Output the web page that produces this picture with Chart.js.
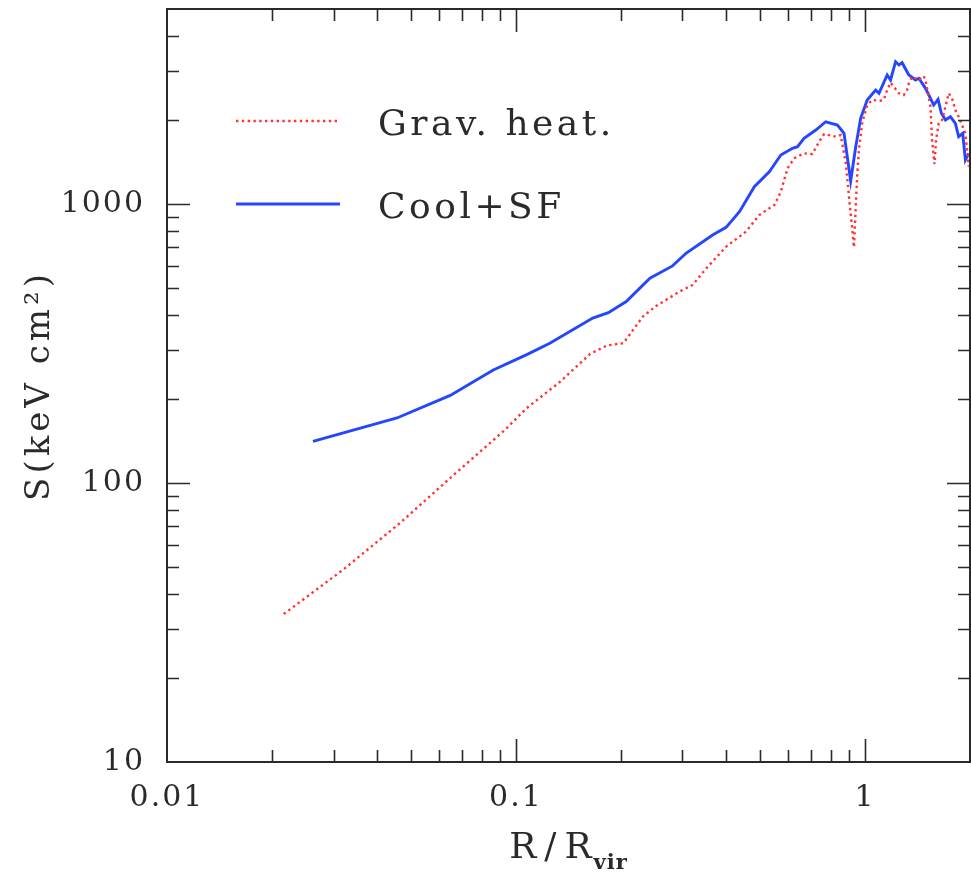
<!DOCTYPE html>
<html>
<head>
<meta charset="utf-8">
<script src="https://cdn.jsdelivr.net/npm/chart.js@4.4.1/dist/chart.umd.min.js"></script>
<style>
  html, body { margin: 0; padding: 0; background: #fff; }
  canvas { display: block; }
</style>
</head>
<body>
<canvas id="entropyChart" width="971" height="874"></canvas>
<script>
// Entropy profiles S(R)
const gravR = [0.0216, 0.0321, 0.0466, 0.0669, 0.093, 0.107, 0.134, 0.163, 0.182, 0.203,
  0.231, 0.252, 0.294, 0.321, 0.351, 0.400, 0.456, 0.498, 0.550, 0.574,
  0.600, 0.627, 0.669, 0.707, 0.739, 0.764, 0.825, 0.852, 0.881, 0.900,
  0.920, 0.930, 0.941, 0.951, 0.961, 0.982, 1.015, 1.049, 1.109, 1.133,
  1.158, 1.184, 1.210, 1.251, 1.292, 1.321, 1.336, 1.365, 1.427, 1.474,
  1.497, 1.541, 1.557, 1.582, 1.599, 1.627, 1.663, 1.701, 1.738, 1.776,
  1.816, 1.856, 1.906, 1.940, 1.983];
const gravS = [33.9, 49.1, 72.0, 108, 155, 185, 231, 290, 311, 317,
  395, 431, 485, 513, 588, 703, 796, 913, 992, 1107,
  1343, 1458, 1519, 1511, 1672, 1782, 1743, 1767, 1403, 1062,
  807, 700, 978, 1292, 1561, 1951, 2263, 2359, 2346, 2373,
  2562, 2721, 2633, 2493, 2459, 2562, 2708, 2860, 2783, 2876,
  2708, 2232, 1696, 1391, 1696, 1946, 2000, 2232, 2493, 2393,
  2172, 2055, 1893, 1792, 1360];

const coolR = [0.0262, 0.0456, 0.0648, 0.0861, 0.107, 0.125, 0.166, 0.184, 0.207, 0.242,
  0.281, 0.307, 0.366, 0.400, 0.437, 0.482, 0.532, 0.574, 0.620, 0.641,
  0.669, 0.723, 0.772, 0.834, 0.871, 0.910, 0.941, 0.972, 1.015, 1.073,
  1.097, 1.158, 1.184, 1.224, 1.251, 1.278, 1.336, 1.396, 1.427, 1.491,
  1.541, 1.574, 1.620, 1.656, 1.701, 1.758, 1.816, 1.856, 1.906, 1.940,
  1.983];
const coolS = [141, 171, 206, 254, 288, 317, 390, 408, 447, 542,
  600, 666, 774, 825, 939, 1153, 1305, 1498, 1584, 1605,
  1720, 1842, 1972, 1919, 1792, 1209, 1605, 2028, 2359, 2562,
  2493, 2901, 2783, 3236, 3150, 3210, 2901, 2783, 2822, 2598,
  2393, 2263, 2373, 2114, 2000, 2055, 1946, 1743, 1792, 1438,
  1519];

const seriesLabels = ['Grav. heat.', 'Cool+SF'];
const xTickValues = [0.01, 0.1, 1];
const xTickLabels = ['0.01', '0.1', '1'];
const yTickValues = [10, 100, 1000];
const yTickLabels = ['10', '100', '1000'];
const xTitle = ['R/R', 'vir'];
const yTitle = 'S(keV cm\u00B2)';

const RED = '#ff3434';
const BLUE = '#2546ff';
const INK = '#2a2a2a';
const serif = '"DejaVu Serif", serif';

function toPoints(xs, ys) {
  return xs.map((x, i) => ({ x: x, y: ys[i] }));
}

// minor tick values 2..9 in each decade
function minorTicks(decades, max) {
  const out = [];
  decades.forEach(d => {
    for (let k = 2; k <= 9; k++) {
      if (k * d <= max) out.push(k * d);
    }
  });
  return out;
}

// frame + inward tick marks on all four sides
const framePlugin = {
  id: 'frame',
  afterDraw(chart) {
    const { ctx, chartArea: a, scales: { x, y } } = chart;
    const major = 23, minor = 12;
    ctx.save();
    ctx.strokeStyle = INK;
    ctx.lineWidth = 1.6;
    ctx.beginPath();
    const xt = xTickValues.map(v => [v, major]).concat(minorTicks(xTickValues, 2).map(v => [v, minor]));
    xt.forEach(([v, len]) => {
      const px = Math.round(x.getPixelForValue(v)) + 0.5;
      if (px <= a.left + 1 || px >= a.right - 1) return;
      ctx.moveTo(px, a.bottom); ctx.lineTo(px, a.bottom - len);
      ctx.moveTo(px, a.top); ctx.lineTo(px, a.top + len);
    });
    const yt = yTickValues.map(v => [v, major]).concat(minorTicks(yTickValues, 5000).map(v => [v, minor]));
    yt.forEach(([v, len]) => {
      const py = Math.round(y.getPixelForValue(v)) + 0.5;
      if (py <= a.top + 1 || py >= a.bottom - 1) return;
      ctx.moveTo(a.left, py); ctx.lineTo(a.left + len, py);
      ctx.moveTo(a.right, py); ctx.lineTo(a.right - len, py);
    });
    ctx.stroke();
    ctx.lineWidth = 2;
    ctx.strokeRect(a.left, a.top, a.right - a.left, a.bottom - a.top);
    ctx.restore();
  }
};

// legend inside the plot, axis titles (x title needs a subscript)
const textPlugin = {
  id: 'texts',
  beforeDraw(chart) {
    chart.ctx.letterSpacing = '2px';
  },
  afterDraw(chart) {
    const { ctx, chartArea: a } = chart;
    ctx.save();
    ctx.fillStyle = INK;
    ctx.textBaseline = 'alphabetic';
    ctx.textAlign = 'left';

    // legend
    ctx.letterSpacing = '3.5px';
    ctx.font = '36px ' + serif;
    const rows = [135, 218];
    chart.data.datasets.forEach((ds, i) => {
      const base = rows[i];
      ctx.save();
      ctx.strokeStyle = ds.borderColor;
      ctx.lineWidth = ds.borderWidth;
      ctx.setLineDash(ds.borderDash || []);
      ctx.beginPath();
      ctx.moveTo(236, base - 14);
      ctx.lineTo(340, base - 14);
      ctx.stroke();
      ctx.restore();
      ctx.fillText(ds.label, 378, base);
    });

    // y title, rotated
    ctx.save();
    ctx.letterSpacing = '4px';
    ctx.font = '34px ' + serif;
    ctx.translate(40, (a.top + a.bottom) / 2);
    ctx.rotate(-Math.PI / 2);
    ctx.textAlign = 'center';
    ctx.textBaseline = 'middle';
    ctx.fillText(yTitle, 0, 0);
    ctx.restore();

    // x title with subscript
    ctx.letterSpacing = '8px';
    ctx.font = '36px ' + serif;
    const w1 = ctx.measureText(xTitle[0]).width - 6;
    ctx.font = 'bold 21px ' + serif;
    ctx.letterSpacing = '1px';
    const w2 = ctx.measureText(xTitle[1]).width;
    const x0 = (a.left + a.right) / 2 - (w1 + w2) / 2;
    ctx.letterSpacing = '8px';
    ctx.font = '36px ' + serif;
    ctx.fillText(xTitle[0], x0, 858);
    ctx.letterSpacing = '1px';
    ctx.font = 'bold 21px ' + serif;
    ctx.fillText(xTitle[1], x0 + w1, 869);
    ctx.restore();
  }
};

const ctx = document.getElementById('entropyChart').getContext('2d');
new Chart(ctx, {
  type: 'line',
  data: {
    datasets: [
      {
        label: seriesLabels[0],
        data: toPoints(gravR, gravS),
        borderColor: RED,
        borderWidth: 2.4,
        borderDash: [2.4, 3.4],
        pointRadius: 0,
        fill: false,
        tension: 0
      },
      {
        label: seriesLabels[1],
        data: toPoints(coolR, coolS),
        borderColor: BLUE,
        borderWidth: 2.9,
        pointRadius: 0,
        fill: false,
        tension: 0
      }
    ]
  },
  options: {
    responsive: false,
    animation: false,
    layout: { padding: { top: 9, right: 1, left: 0, bottom: 0 } },
    plugins: {
      legend: { display: false },
      tooltip: { enabled: false }
    },
    scales: {
      x: {
        type: 'logarithmic',
        min: 0.01,
        max: 2,
        afterBuildTicks: scale => { scale.ticks = xTickValues.map(v => ({ value: v })); },
        afterFit: scale => {
          scale.height = 112;
          scale.paddingLeft = 0;
          scale.paddingRight = 0;
        },
        grid: { display: false, drawTicks: false },
        border: { display: false },
        ticks: {
          autoSkip: false,
          maxRotation: 0,
          padding: 18,
          color: INK,
          font: { family: serif, size: 30 },
          callback: (v, i) => xTickLabels[i]
        }
      },
      y: {
        type: 'logarithmic',
        min: 10,
        max: 5000,
        afterBuildTicks: scale => { scale.ticks = yTickValues.map(v => ({ value: v })); },
        afterFit: scale => {
          scale.width = 167;
          scale.paddingTop = 0;
          scale.paddingBottom = 0;
        },
        grid: { display: false, drawTicks: false },
        border: { display: false },
        ticks: {
          autoSkip: false,
          padding: 22,
          color: INK,
          font: { family: serif, size: 30 },
          callback: (v, i) => yTickLabels[i]
        }
      }
    }
  },
  plugins: [framePlugin, textPlugin]
});
</script>
</body>
</html>
